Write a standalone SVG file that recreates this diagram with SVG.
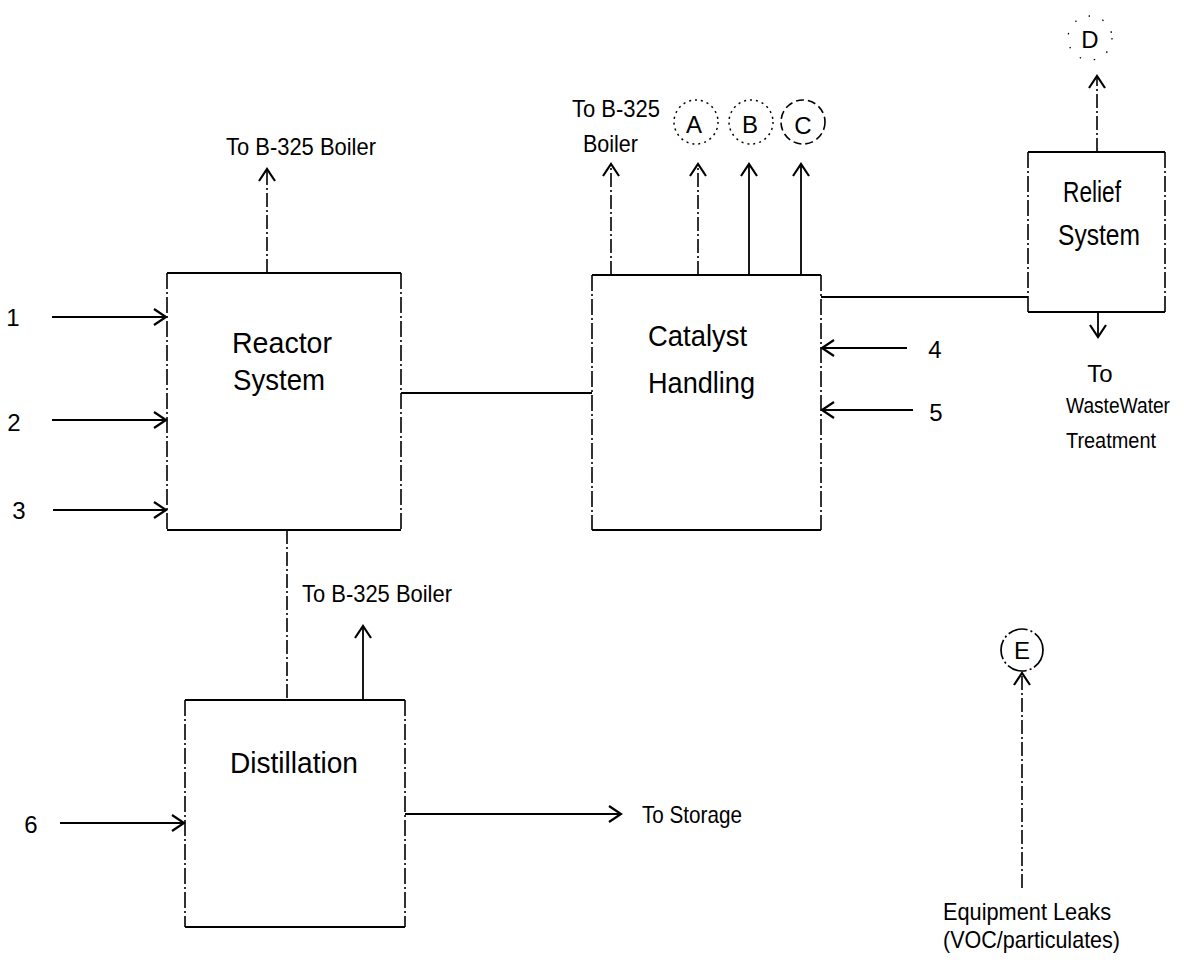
<svg xmlns="http://www.w3.org/2000/svg" width="1184" height="966" viewBox="0 0 1184 966">
<style>
  text { font-family: "Liberation Sans", Arial, sans-serif; fill: #000; }
  .lbl { font-size: 24px; }
  .sm { font-size: 22px; }
  .box-lbl { font-size: 29px; }
  .num { font-size: 24px; text-anchor: middle; }
  .h { stroke: #000; stroke-width: 2; fill: none; }
  .v { stroke: #000; stroke-width: 1.6; fill: none; stroke-dasharray: 16 3 2 3; }
  .conn { stroke: #000; stroke-width: 1.8; fill: none; }
  .vconn { stroke: #000; stroke-width: 1.6; fill: none; stroke-dasharray: 14 3 2 3; }
  .arr { marker-end: url(#chev); }
</style>
<defs>
  <marker id="chev" markerUnits="userSpaceOnUse" markerWidth="16" markerHeight="18" refX="13" refY="9" orient="auto">
    <path d="M1,1 L13,9 L1,17" fill="none" stroke="#000" stroke-width="2.2"/>
  </marker>
</defs>
<rect width="1184" height="966" fill="#fff"/>

<g id="connectors">
  <line class="conn arr" x1="52" y1="317" x2="166" y2="317"/>
  <line class="conn arr" x1="52" y1="420" x2="166" y2="420"/>
  <line class="conn arr" x1="53" y1="510" x2="166" y2="510"/>
  <line class="vconn arr" x1="267" y1="273" x2="267" y2="169"/>
  <line class="conn" x1="401" y1="393" x2="592" y2="393"/>
  <line class="vconn" x1="287" y1="530" x2="287" y2="700"/>
  <line class="vconn arr" x1="611" y1="275" x2="611" y2="164"/>
  <line class="vconn arr" x1="698" y1="275" x2="698" y2="164"/>
  <line class="conn arr" x1="749" y1="275" x2="749" y2="164"/>
  <line class="conn arr" x1="801" y1="275" x2="801" y2="164"/>
  <line class="conn arr" x1="907" y1="348" x2="822" y2="348"/>
  <line class="conn arr" x1="913" y1="410" x2="822" y2="410"/>
  <line class="conn" x1="821" y1="297" x2="1028" y2="297"/>
  <line class="vconn arr" x1="1097" y1="152" x2="1097" y2="76"/>
  <line class="conn arr" x1="1098" y1="312" x2="1098" y2="337"/>
  <line class="conn arr" x1="363" y1="700" x2="363" y2="626"/>
  <line class="conn arr" x1="60" y1="823" x2="184" y2="823"/>
  <line class="conn arr" x1="405" y1="814" x2="621" y2="814"/>
  <line class="vconn arr" x1="1022" y1="888" x2="1022" y2="673"/>
</g>

<g id="reactor">
  <path class="h" d="M167,273 H401 M167,530 H401"/>
  <path class="v" d="M167,273 V530 M401,273 V530"/>
  <text class="box-lbl" x="232" y="353" textLength="100" lengthAdjust="spacingAndGlyphs">Reactor</text>
  <text class="box-lbl" x="233" y="390" textLength="92" lengthAdjust="spacingAndGlyphs">System</text>
</g>

<g id="catalyst">
  <path class="h" d="M592,275 H821 M592,530 H821"/>
  <path class="v" d="M592,275 V530 M821,275 V530"/>
  <text class="box-lbl" x="648" y="346" textLength="99" lengthAdjust="spacingAndGlyphs">Catalyst</text>
  <text class="box-lbl" x="648" y="393" textLength="107" lengthAdjust="spacingAndGlyphs">Handling</text>
</g>

<g id="relief">
  <path class="h" d="M1028,152 H1165 M1028,312 H1165"/>
  <path class="v" d="M1028,152 V312 M1165,152 V312"/>
  <text class="box-lbl" x="1063" y="202" textLength="58" lengthAdjust="spacingAndGlyphs">Relief</text>
  <text class="box-lbl" x="1058" y="245" textLength="82" lengthAdjust="spacingAndGlyphs">System</text>
</g>

<g id="distillation">
  <path class="h" d="M185,700 H405 M185,927 H405"/>
  <path class="v" d="M185,700 V927 M405,700 V927"/>
  <text class="box-lbl" x="230" y="773" textLength="128" lengthAdjust="spacingAndGlyphs">Distillation</text>
</g>

<g id="inputs">
  <text class="num" x="13" y="326">1</text>
  <text class="num" x="14" y="431">2</text>
  <text class="num" x="19" y="519">3</text>
  <text class="num" x="935" y="358">4</text>
  <text class="num" x="936" y="421">5</text>
  <text class="num" x="31" y="833">6</text>
</g>

<g id="boiler-labels">
  <text class="lbl" x="226" y="155" textLength="150" lengthAdjust="spacingAndGlyphs">To B-325 Boiler</text>
  <text class="lbl" x="572" y="117" textLength="88" lengthAdjust="spacingAndGlyphs">To B-325</text>
  <text class="lbl" x="583" y="152" textLength="55" lengthAdjust="spacingAndGlyphs">Boiler</text>
  <text class="lbl" x="302" y="602" textLength="150" lengthAdjust="spacingAndGlyphs">To B-325 Boiler</text>
</g>

<g id="circle-a">
  <circle cx="696" cy="122" r="22" fill="none" stroke="#000" stroke-width="1.5" stroke-dasharray="2 4"/>
  <text class="num" x="694" y="133">A</text>
</g>
<g id="circle-b">
  <circle cx="751" cy="122" r="22" fill="none" stroke="#000" stroke-width="1.5" stroke-dasharray="2 4"/>
  <text class="num" x="750" y="133">B</text>
</g>
<g id="circle-c">
  <circle cx="803" cy="122" r="22" fill="none" stroke="#000" stroke-width="1.6" stroke-dasharray="8 4"/>
  <text class="num" x="803" y="134">C</text>
</g>
<g id="circle-d">
  <circle cx="1090" cy="38" r="22" fill="none" stroke="#000" stroke-width="1.3" stroke-dasharray="1.5 13"/>
  <text class="num" x="1090" y="48">D</text>
</g>
<g id="circle-e">
  <circle cx="1022" cy="650" r="21" fill="none" stroke="#000" stroke-width="1.7" stroke-dasharray="20 3 2 3"/>
  <text class="num" x="1022" y="659">E</text>
</g>

<g id="wastewater">
  <text class="lbl" x="1100" y="382" text-anchor="middle">To</text>
  <text class="sm" x="1066" y="413" textLength="104" lengthAdjust="spacingAndGlyphs">WasteWater</text>
  <text class="sm" x="1066" y="448" textLength="90" lengthAdjust="spacingAndGlyphs">Treatment</text>
</g>

<g id="storage">
  <text class="lbl" x="642" y="823" textLength="100" lengthAdjust="spacingAndGlyphs">To Storage</text>
</g>

<g id="equipment-leaks">
  <text class="lbl" x="943" y="920" textLength="168" lengthAdjust="spacingAndGlyphs">Equipment Leaks</text>
  <text class="lbl" x="943" y="948" textLength="177" lengthAdjust="spacingAndGlyphs">(VOC/particulates)</text>
</g>
</svg>
